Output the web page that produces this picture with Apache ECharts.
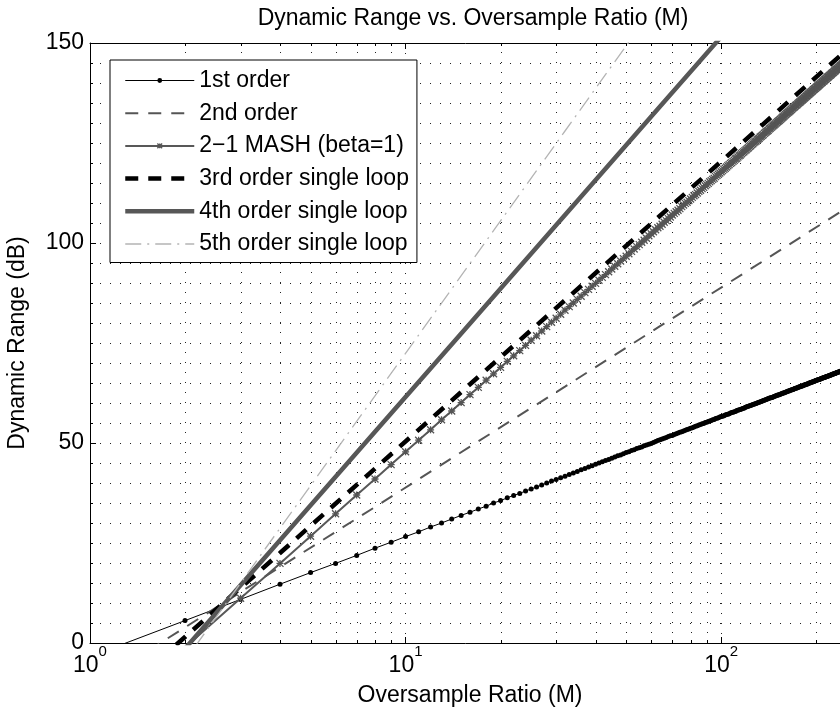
<!DOCTYPE html>
<html><head><meta charset="utf-8">
<script src="https://cdn.jsdelivr.net/npm/echarts@6/dist/echarts.min.js"></script>
<style>html,body{margin:0;padding:0;background:#fff}#c{width:840px;height:715px}</style>
</head><body><div id="c"></div>
<script>
// Oversample ratio M (integer steps, as plotted with markers)
const M = [
1,2,3,4,5,6,7,8,9,10,11,12,13,14,15,16,17,18,19,20,21,22,23,24,25,26,27,28,29,30,31,32,
33,34,35,36,37,38,39,40,41,42,43,44,45,46,47,48,49,50,51,52,53,54,55,56,57,58,59,60,61,62,63,64,
65,66,67,68,69,70,71,72,73,74,75,76,77,78,79,80,81,82,83,84,85,86,87,88,89,90,91,92,93,94,95,96,
97,98,99,100,101,102,103,104,105,106,107,108,109,110,111,112,113,114,115,116,117,118,119,120,121,122,123,124,125,126,127,128,
129,130,131,132,133,134,135,136,137,138,139,140,141,142,143,144,145,146,147,148,149,150,151,152,153,154,155,156,157,158,159,160,
161,162,163,164,165,166,167,168,169,170,171,172,173,174,175,176,177,178,179,180,181,182,183,184,185,186,187,188,189,190,191,192,
193,194,195,196,197,198,199,200,201,202,203,204,205,206,207,208,209,210,211,212,213,214,215,216,217,218,219,220,221,222,223,224,
225,226,227,228,229,230,231,232,233,234,235,236,237,238,239,240,241,242,243,244,245,246,247,248,249,250,251,252,253,254,255,256];

// 1st order dynamic range (dB) at each M
const dr1st = [
-3.4,5.6,10.9,14.7,17.6,19.9,21.9,23.7,25.2,26.6,
27.8,29.0,30.0,31.0,31.9,32.7,33.5,34.2,35.0,35.6,
36.3,36.9,37.4,38.0,38.5,39.0,39.5,40.0,40.5,40.9,
41.3,41.7,42.1,42.5,42.9,43.3,43.6,44.0,44.3,44.7,
45.0,45.3,45.6,45.9,46.2,46.5,46.8,47.0,47.3,47.6,
47.8,48.1,48.3,48.6,48.8,49.0,49.3,49.5,49.7,49.9,
50.1,50.4,50.6,50.8,51.0,51.2,51.4,51.6,51.8,51.9,
52.1,52.3,52.5,52.7,52.8,53.0,53.2,53.4,53.5,53.7,
53.8,54.0,54.2,54.3,54.5,54.6,54.8,54.9,55.1,55.2,
55.4,55.5,55.6,55.8,55.9,56.1,56.2,56.3,56.5,56.6,
56.7,56.8,57.0,57.1,57.2,57.3,57.5,57.6,57.7,57.8,
57.9,58.1,58.2,58.3,58.4,58.5,58.6,58.7,58.9,59.0,
59.1,59.2,59.3,59.4,59.5,59.6,59.7,59.8,59.9,60.0,
60.1,60.2,60.3,60.4,60.5,60.6,60.7,60.8,60.9,61.0,
61.1,61.2,61.3,61.3,61.4,61.5,61.6,61.7,61.8,61.9,
62.0,62.0,62.1,62.2,62.3,62.4,62.5,62.5,62.6,62.7,
62.8,62.9,63.0,63.0,63.1,63.2,63.3,63.3,63.4,63.5,
63.6,63.7,63.7,63.8,63.9,64.0,64.0,64.1,64.2,64.2,
64.3,64.4,64.5,64.5,64.6,64.7,64.7,64.8,64.9,65.0,
65.0,65.1,65.2,65.2,65.3,65.4,65.4,65.5,65.6,65.6,
65.7,65.8,65.8,65.9,65.9,66.0,66.1,66.1,66.2,66.3,
66.3,66.4,66.4,66.5,66.6,66.6,66.7,66.7,66.8,66.9,
66.9,67.0,67.0,67.1,67.2,67.2,67.3,67.3,67.4,67.4,
67.5,67.6,67.6,67.7,67.7,67.8,67.8,67.9,67.9,68.0,
68.1,68.1,68.2,68.2,68.3,68.3,68.4,68.4,68.5,68.5,
68.6,68.6,68.7,68.7,68.8,68.8];

// 2-1 MASH (beta=1) dynamic range (dB) at each M
const drMash = [
-22.2,-1.1,11.2,19.9,26.7,32.3,37.0,41.0,44.6,47.8,
50.7,53.3,55.8,58.0,60.1,62.1,63.9,65.7,67.3,68.9,
70.4,71.8,73.1,74.4,75.7,76.8,78.0,79.1,80.2,81.2,
82.2,83.2,84.1,85.0,85.9,86.7,87.6,88.4,89.2,89.9,
90.7,91.4,92.1,92.8,93.5,94.2,94.8,95.5,96.1,96.7,
97.3,97.9,98.5,99.1,99.6,100.2,100.7,101.2,101.8,102.3,
102.8,103.3,103.8,104.2,104.7,105.2,105.6,106.1,106.5,107.0,
107.4,107.8,108.2,108.6,109.1,109.5,109.9,110.2,110.6,111.0,
111.4,111.8,112.1,112.5,112.9,113.2,113.6,113.9,114.3,114.6,
114.9,115.3,115.6,115.9,116.2,116.6,116.9,117.2,117.5,117.8,
118.1,118.4,118.7,119.0,119.3,119.6,119.9,120.1,120.4,120.7,
121.0,121.2,121.5,121.8,122.0,122.3,122.6,122.8,123.1,123.3,
123.6,123.8,124.1,124.3,124.6,124.8,125.1,125.3,125.5,125.8,
126.0,126.2,126.5,126.7,126.9,127.1,127.4,127.6,127.8,128.0,
128.2,128.5,128.7,128.9,129.1,129.3,129.5,129.7,129.9,130.1,
130.3,130.5,130.7,130.9,131.1,131.3,131.5,131.7,131.9,132.1,
132.3,132.5,132.7,132.8,133.0,133.2,133.4,133.6,133.8,133.9,
134.1,134.3,134.5,134.6,134.8,135.0,135.2,135.3,135.5,135.7,
135.8,136.0,136.2,136.3,136.5,136.7,136.8,137.0,137.2,137.3,
137.5,137.6,137.8,137.9,138.1,138.3,138.4,138.6,138.7,138.9,
139.0,139.2,139.3,139.5,139.6,139.8,139.9,140.1,140.2,140.4,
140.5,140.6,140.8,140.9,141.1,141.2,141.4,141.5,141.6,141.8,
141.9,142.0,142.2,142.3,142.5,142.6,142.7,142.9,143.0,143.1,
143.3,143.4,143.5,143.6,143.8,143.9,144.0,144.2,144.3,144.4,
144.5,144.7,144.8,144.9,145.0,145.2,145.3,145.4,145.5,145.7,
145.8,145.9,146.0,146.1,146.3,146.4];

// Unmarked straight lines (in log M) read at octave points
const Mline = [1, 2, 4, 8, 16, 32, 64, 128, 256];
const dr2nd = [-11.1, 3.9, 19.0, 34.0, 49.1, 64.1, 79.2, 94.2, 109.3];
const dr3rd = [-19.6, 1.5, 22.5, 43.6, 64.7, 85.7, 106.8, 127.9, 149.0];
const dr4th = [-28.5, -1.4, 25.7, 52.8, 79.9, 107.0, 134.1, 161.2, 188.3];
const dr5th = [-37.5, -4.4, 28.7, 61.8, 94.9, 128.0, 161.1, 194.3, 227.4];

const seriesNames = ['1st order', '2nd order', '2\u22121 MASH (beta=1)',
  '3rd order single loop', '4th order single loop', '5th order single loop'];
const titleText = 'Dynamic Range vs. Oversample Ratio (M)';
const xName = 'Oversample Ratio (M)';
const yName = 'Dynamic Range (dB)';
const xMinorTicks = [2,3,4,5,6,7,8,9,20,30,40,50,60,70,80,90,200];

const FONT = "'Liberation Sans', Arial, Helvetica, sans-serif";
const dotted = {color: '#222', width: 1, type: [1, 9]};
const pairs = (xs, ys) => xs.map((x, i) => [x, ys[i]]);

const chart = echarts.init(document.getElementById('c'), null, {renderer: 'canvas'});

function logLabel(v) {
  const e = Math.log10(v);
  const r = Math.round(e);
  if (Math.abs(e - r) > 1e-6) return '';
  return '{b|10}{sup|' + r + '}';
}

const option = {
  animation: false,
  backgroundColor: '#fff',
  textStyle: {fontFamily: FONT},
  title: {
    text: titleText, left: 473, top: 7, textAlign: 'center', padding: 0,
    textStyle: {fontFamily: FONT, fontSize: 23, fontWeight: 'normal', color: '#000'}
  },
  grid: {left: 90, width: 760, top: 43, height: 600, containLabel: false, outerBoundsMode: 'none'},
  legend: {
    data: seriesNames.map((n, i) => (i === 0 || i === 2) ? n : {name: n, itemStyle: {opacity: 0}}),
    orient: 'vertical', left: 110, top: 60,
    padding: [9, 8, 7, 13], itemGap: 9.7, itemWidth: 69, itemHeight: 6,
    backgroundColor: '#fff', borderColor: '#000', borderWidth: 1, borderRadius: 0,
    selectedMode: false,
    textStyle: {fontFamily: FONT, fontSize: 23, color: '#000'},
    lineStyle: {width: 'inherit'},
    itemStyle: {borderWidth: 'inherit'},
    z: 10
  },
  xAxis: [{
    type: 'log', logBase: 10, min: 1, max: 256, position: 'bottom',
    name: xName, nameLocation: 'middle', nameGap: 41, nameMoveOverlap: false,
    nameTextStyle: {fontFamily: FONT, fontSize: 23, color: '#000'},
    axisLine: {show: true, lineStyle: {color: '#000', width: 1}},
    axisTick: {show: true, inside: true, length: 6, lineStyle: {color: '#000'}},
    axisLabel: {
      margin: 1, formatter: logLabel,
      rich: {
        b: {fontFamily: FONT, fontSize: 23, color: '#000', padding: [10, 0, 0, 0]},
        sup: {fontFamily: FONT, fontSize: 15, color: '#000', verticalAlign: 'top'}
      }
    },
    splitLine: {show: true, lineStyle: dotted},
    minorTick: {show: false}
  }, {
    type: 'log', logBase: 10, min: 1, max: 256, position: 'top',
    axisLine: {show: true, lineStyle: {color: '#000', width: 1}},
    axisTick: {show: true, inside: true, length: 6, lineStyle: {color: '#000'}},
    axisLabel: {show: false}, splitLine: {show: false}
  }],
  yAxis: {
    type: 'value', min: 0, max: 150, interval: 50,
    name: yName, nameLocation: 'middle', nameGap: 61, nameMoveOverlap: false,
    nameTextStyle: {fontFamily: FONT, fontSize: 23, color: '#000'},
    axisLine: {show: true, lineStyle: {color: '#000', width: 1}},
    axisTick: {show: true, inside: true, length: 6, lineStyle: {color: '#000'}},
    minorTick: {show: true, splitNumber: 10, length: 3, lineStyle: {color: '#000'}},
    axisLabel: {fontFamily: FONT, fontSize: 23, color: '#000', margin: 6},
    splitLine: {show: true, lineStyle: dotted},
    minorSplitLine: {show: true, lineStyle: dotted}
  },
  series: [
    {
      type: 'custom', name: 'minorgrid', xAxisIndex: 0, yAxisIndex: 0, z: 1, silent: true,
      data: xMinorTicks.map(v => [v, 0]),
      renderItem: function (params, api) {
        const x = api.value(0);
        const pb = api.coord([x, 0]);
        const pt = api.coord([x, 150]);
        const px = Math.round(pb[0]) + 0.5;
        return {type: 'group', children: [
          {type: 'line', shape: {x1: px, y1: pb[1], x2: px, y2: pt[1]}, style: {stroke: '#222', lineWidth: 1, lineDash: [1, 9]}},
          {type: 'line', shape: {x1: px, y1: pb[1], x2: px, y2: pb[1] - 3}, style: {stroke: '#000', lineWidth: 1}},
          {type: 'line', shape: {x1: px, y1: pt[1], x2: px, y2: pt[1] + 3}, style: {stroke: '#000', lineWidth: 1}}
        ]};
      }
    },
    {
      name: seriesNames[0], type: 'line', data: pairs(M, dr1st), clip: true, z: 3,
      symbol: 'circle', symbolSize: 5, showAllSymbol: true,
      itemStyle: {color: '#000'}, lineStyle: {color: '#000', width: 1}
    },
    {
      name: seriesNames[1], type: 'line', data: pairs(Mline, dr2nd), clip: true, z: 3,
      symbol: 'none', itemStyle: {color: '#555'}, lineStyle: {color: '#555', width: 2, type: [13, 10]}
    },
    {
      name: seriesNames[2], type: 'line', data: pairs(M, drMash), clip: true, z: 3,
      symbol: 'path://M0,0L10,10M10,0L0,10M5,0L5,10M0,5L10,5', symbolSize: 7, showAllSymbol: true,
      itemStyle: {color: '#555', borderColor: '#555', borderWidth: 1.3},
      lineStyle: {color: '#585858', width: 2}
    },
    {
      name: seriesNames[3], type: 'line', data: pairs(Mline, dr3rd), clip: true, z: 3,
      symbol: 'none', itemStyle: {color: '#000'}, lineStyle: {color: '#000', width: 4.5, type: [13, 10]}
    },
    {
      name: seriesNames[4], type: 'line', data: pairs(Mline, dr4th), clip: true, z: 3,
      symbol: 'none', itemStyle: {color: '#575757'}, lineStyle: {color: '#575757', width: 4.5}
    },
    {
      name: seriesNames[5], type: 'line', data: pairs(Mline, dr5th), clip: true, z: 3,
      symbol: 'none', itemStyle: {color: '#b4b4b4'}, lineStyle: {color: '#b4b4b4', width: 1.3, type: [16, 6, 2, 6]}
    }
  ]
};
chart.setOption(option);
</script>
</body></html>
